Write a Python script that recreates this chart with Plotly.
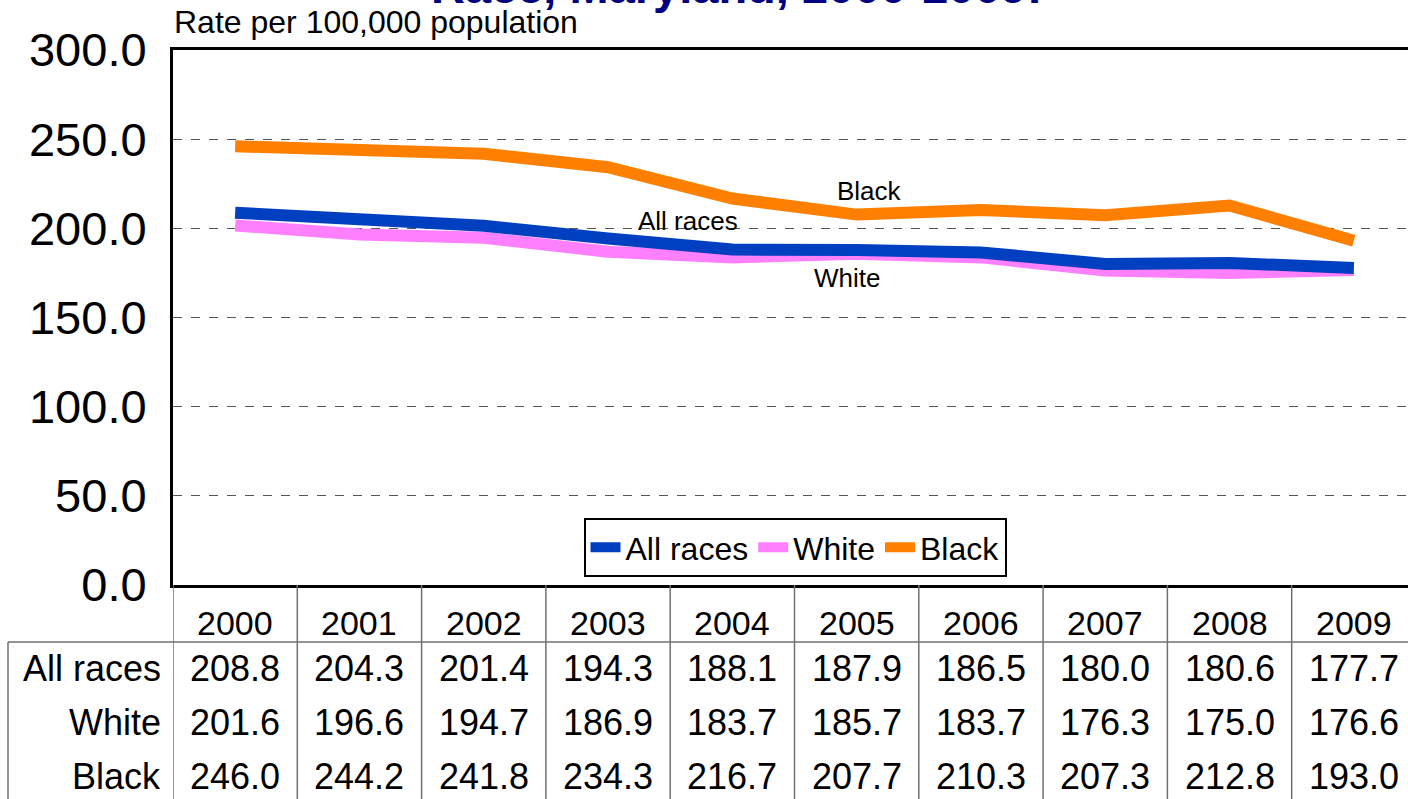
import plotly.graph_objects as go

# Age-adjusted rates per 100,000 population by race, Maryland
years = [2000, 2001, 2002, 2003, 2004, 2005, 2006, 2007, 2008, 2009]
all_races = [208.8, 204.3, 201.4, 194.3, 188.1, 187.9, 186.5, 180.0, 180.6, 177.7]
white = [201.6, 196.6, 194.7, 186.9, 183.7, 185.7, 183.7, 176.3, 175.0, 176.6]
black = [246.0, 244.2, 241.8, 234.3, 216.7, 207.7, 210.3, 207.3, 212.8, 193.0]

series_names = ["All races", "White", "Black"]
series_values = [all_races, white, black]
series_colors = ["#0040C0", "#FF80FF", "#FF8000"]

FONT = "Liberation Sans, Arial, sans-serif"
W, H = 1408, 799
ML, MR, MT, MB = 173, 0, 50, 214
plot_w = W - ML - MR
plot_h = H - MT - MB
col_w = 124.3  # width of one year column in pixels


def py(pix):
    """Pixel row (from top of figure) -> paper y."""
    return (H - MB - pix) / plot_h


def px(pix):
    """Pixel column -> paper x."""
    return (pix - ML) / plot_w


fig = go.Figure()

# draw order: White underneath, All races, Black on top
for idx in (1, 0, 2):
    fig.add_trace(go.Scatter(
        x=years, y=series_values[idx], name=series_names[idx],
        mode="lines", line=dict(color=series_colors[idx], width=12),
        legendrank=idx + 1,
    ))

x0 = years[0] - 0.5
x1 = x0 + plot_w / col_w

fig.update_xaxes(
    range=[x0, x1], showticklabels=False, showgrid=False, zeroline=False,
    showline=True, linecolor="black", linewidth=3, mirror=True, ticks="",
)
fig.update_yaxes(
    range=[0, 300], dtick=50, tickformat=".1f", showgrid=True,
    gridcolor="#555555", griddash="dash", gridwidth=1, zeroline=False,
    showline=True, linecolor="black", linewidth=3, mirror=False, ticks="",
    tickfont=dict(family=FONT, size=47, color="black"), ticklabelstandoff=14,
)

annotations = []
shapes = []

# title (last line) and axis unit
annotations.append(dict(
    text="<b>Race, Maryland, 2000-2009:</b>", xref="paper", yref="paper",
    x=px(736), y=py(15), xanchor="center", yanchor="bottom", showarrow=False,
    font=dict(family=FONT, size=47, color="#000080"),
))
annotations.append(dict(
    text="Rate per 100,000 population", xref="paper", yref="paper",
    x=px(172), y=py(42), xanchor="left", yanchor="bottom", showarrow=False,
    font=dict(family=FONT, size=32, color="black"),
))

# in-chart series labels
line_labels = [("Black", 5.1, 220.8), ("All races", 3.64, 204.0), ("White", 4.92, 172.0)]
for text, xi, yv in line_labels:
    annotations.append(dict(
        text=text, xref="x", yref="y", x=years[0] + xi, y=yv,
        showarrow=False, font=dict(family=FONT, size=26, color="black"),
    ))

# data table below the plot
header_y = 623
row_ys = [668, 722, 776]
for yr in years:
    annotations.append(dict(
        text=str(yr), xref="x", yref="paper", x=yr, y=py(header_y),
        showarrow=False, yanchor="middle",
        font=dict(family=FONT, size=34, color="black"),
    ))
for name, vals, ry in zip(series_names, series_values, row_ys):
    annotations.append(dict(
        text=name, xref="paper", yref="paper", x=px(163), y=py(ry),
        xanchor="right", yanchor="middle", showarrow=False,
        font=dict(family=FONT, size=36, color="black"),
    ))
    for yr, v in zip(years, vals):
        annotations.append(dict(
            text=f"{v:.1f}", xref="x", yref="paper", x=yr, y=py(ry),
            showarrow=False, yanchor="middle",
            font=dict(family=FONT, size=36, color="black"),
        ))

grid_line = dict(color="#707070", width=1.5)
for yr in years:
    shapes.append(dict(
        type="line", xref="x", yref="paper", x0=yr - 0.5, x1=yr - 0.5,
        y0=0, y1=py(H), line=grid_line,
    ))
shapes.append(dict(
    type="line", xref="paper", yref="paper", x0=px(8), x1=1,
    y0=py(642), y1=py(642), line=grid_line,
))
shapes.append(dict(
    type="line", xref="paper", yref="paper", x0=px(8), x1=px(8),
    y0=py(642), y1=py(H), line=grid_line,
))

fig.update_layout(
    width=W, height=H, margin=dict(l=ML, r=MR, t=MT, b=MB, pad=0),
    plot_bgcolor="white", paper_bgcolor="white",
    font=dict(family=FONT, color="black"),
    showlegend=True,
    legend=dict(
        orientation="h", x=px(795), y=py(577), xanchor="center", yanchor="bottom",
        bgcolor="white", bordercolor="black", borderwidth=2,
        font=dict(family=FONT, size=32, color="black"),
        itemwidth=30, tracegroupgap=0,
    ),
    annotations=annotations, shapes=shapes,
)

fig.write_html("out.html")
